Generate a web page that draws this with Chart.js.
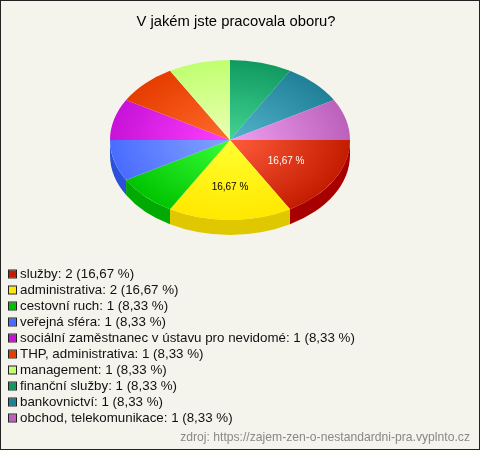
<!DOCTYPE html>
<html><head><meta charset="utf-8">
<style>html,body{margin:0;padding:0;background:#f5f4ec}canvas{display:block}</style>
<script src="https://cdn.jsdelivr.net/npm/chart.js@4/dist/chart.umd.min.js"></script>
</head><body><canvas id="c" width="480" height="450"></canvas>
<script>
const titleText = 'V jakém jste pracovala oboru?';
const sourceText = 'zdroj: https://zajem-zen-o-nestandardni-pra.vyplnto.cz';
const categories = ['služby','administrativa','cestovní ruch','veřejná sféra','sociální zaměstnanec v ústavu pro nevidomé','THP, administrativa','management','finanční služby','bankovnictví','obchod, telekomunikace'];
const counts = [2,2,1,1,1,1,1,1,1,1];
const percents = ['16,67','16,67','8,33','8,33','8,33','8,33','8,33','8,33','8,33','8,33'];
const outerColors = ['#c41c00','#ffe800','#00c400','#4a6cff','#c812d8','#e63c00','#c0ff70','#109a60','#1f8098','#bc60bc'];
const innerColors = ['#ff5c3c','#ffff30','#38ff38','#84a4ff','#ff40ff','#ff6c2c','#ecffb4','#44d494','#54b4cc','#f0a0f0'];
const sideColors = ['#a80000','#e0c800','#00aa00','#2c50d8','#900090','#a82c00','#90c050','#0c7048','#186070','#904890'];
const legendColors = ['#c41c00','#ffe800','#00c000','#4a6cff','#c812d8','#e63c00','#c0ff70','#109a60','#1f8098','#bc60bc'];
const labelColors = ['#ffffff','#000000'];

const PIE_X = 230, TOP_Y = 140, SQUASH = 2/3, DEPTH = 15;
function squash(chart, ctx){
  const a = chart.chartArea, cx=(a.left+a.right)/2, cy=(a.top+a.bottom)/2;
  ctx.translate(PIE_X,TOP_Y); ctx.scale(1,SQUASH); ctx.translate(-cx,-cy);
}
const pie3d = {
  id:'pie3d',
  beforeDraw(chart){
    const c=chart.ctx;
    c.save();
    c.fillStyle='#f5f4ec'; c.fillRect(0,0,480,450);
    c.strokeStyle='#222'; c.lineWidth=1; c.strokeRect(.5,.5,479,449);
    c.restore();
  },
  beforeDatasetsDraw(chart){
    const c=chart.ctx, arcs=chart.getDatasetMeta(0).data;
    c.save();
    squash(chart,c);
    const d=DEPTH/SQUASH;
    arcs.forEach((arc,i)=>{
      const p=arc.getProps(['x','y','startAngle','endAngle','outerRadius']);
      const s=Math.max(p.startAngle,0), e=Math.min(p.endAngle,Math.PI);
      if(e<=s) return;
      c.beginPath();
      c.arc(p.x,p.y,p.outerRadius,s,e);
      c.arc(p.x,p.y+d,p.outerRadius,e,s,true);
      c.closePath();
      c.fillStyle=sideColors[i]; c.fill();
    });
  },
  afterDatasetsDraw(chart){
    const c=chart.ctx;
    c.restore();
    const arcs=chart.getDatasetMeta(0).data;
    c.save();
    c.font='10px "Liberation Sans", Arial, sans-serif';
    c.textAlign='center'; c.textBaseline='middle';
    labelColors.forEach((col,i)=>{
      const p=arcs[i].getProps(['startAngle','endAngle','outerRadius']);
      const m=(p.startAngle+p.endAngle)/2, r=p.outerRadius*0.55;
      c.fillStyle=col;
      c.fillText(percents[i]+' %', PIE_X+r*Math.cos(m)-(i==0?1:0), TOP_Y+r*Math.sin(m)*SQUASH+(i==1?3:-1));
    });
    c.font='13.33px "Liberation Sans", Arial, sans-serif';
    c.textAlign='left';
    categories.forEach((cat,i)=>{
      const y=274+16*i;
      c.fillStyle=legendColors[i]; c.fillRect(9,y-3.5,7,7);
      c.strokeStyle='#222'; c.lineWidth=1; c.strokeRect(8.5,y-4,8,8);
      c.fillStyle='#111';
      c.fillText(cat+': '+counts[i]+' ('+percents[i]+' %)',20,y+.5);
    });
    c.font='12.17px "Liberation Sans", Arial, sans-serif';
    c.textAlign='right'; c.fillStyle='#888';
    c.fillText(sourceText,470,438);
    c.restore();
  }
};
new Chart(document.getElementById('c'),{
  type:'pie',
  data:{labels:categories,datasets:[{data:counts,borderWidth:0,
    backgroundColor(ctx){
      const ch=ctx.chart,a=ch.chartArea;
      if(!a) return outerColors[ctx.dataIndex];
      const cx=(a.left+a.right)/2,cy=(a.top+a.bottom)/2;
      const g=ch.ctx.createRadialGradient(cx,cy,0,cx,cy,120);
      g.addColorStop(0,innerColors[ctx.dataIndex]);
      g.addColorStop(1,outerColors[ctx.dataIndex]);
      return g;
    }}]},
  options:{
    responsive:false,animation:false,devicePixelRatio:1,rotation:90,
    layout:{padding:{left:116,right:124,top:0,bottom:170}},
    plugins:{
      legend:{display:false},tooltip:{enabled:false},
      title:{display:true,text:titleText,color:'#000',
        font:{family:'"Liberation Sans", Arial, sans-serif',size:14.8,weight:'normal'},
        padding:{top:13,bottom:0},align:'center',fullSize:true}
    }
  },
  plugins:[pie3d]
});
</script></body></html>
